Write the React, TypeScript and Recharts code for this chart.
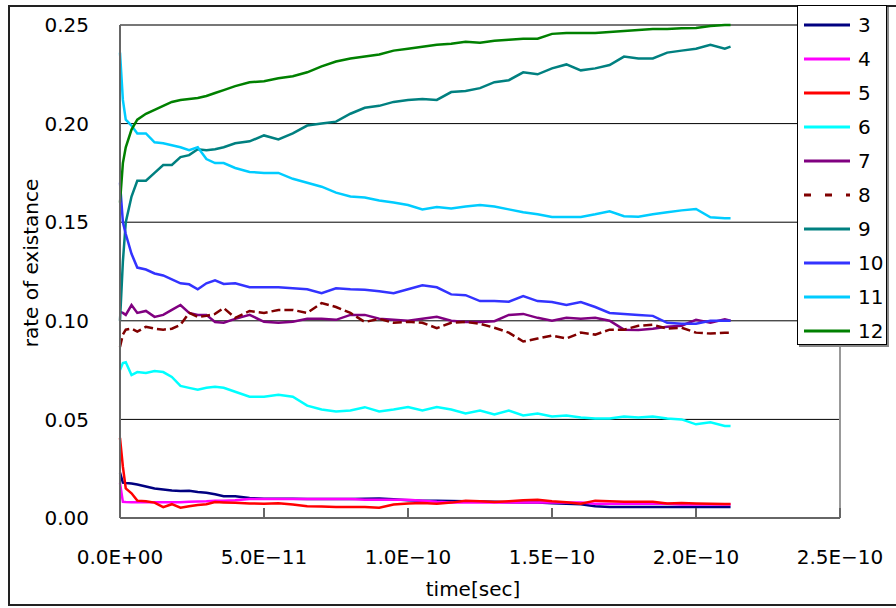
import { CartesianGrid, Label, Line, LineChart, ReferenceLine, XAxis, YAxis } from "recharts";

// time in picoseconds
const timePs = [
	0, 1, 2, 4, 6,
	9, 12, 15, 18, 21,
	24, 27, 30, 33, 36,
	40, 45, 50, 55, 60,
	65, 70, 75, 80, 85,
	90, 95, 100, 105, 110,
	115, 120, 125, 130, 135,
	140, 145, 150, 155, 160,
	165, 170, 175, 180, 185,
	190, 195, 200, 205, 210,
	212,
];

const s3 = [
	0.023, 0.018, 0.0178, 0.0175, 0.017,
	0.016, 0.015, 0.0145, 0.014, 0.0137,
	0.0138, 0.0132, 0.0128, 0.012, 0.011,
	0.011, 0.0101, 0.0098, 0.0097, 0.0097,
	0.0096, 0.0096, 0.0096, 0.0096, 0.0098,
	0.0099, 0.0095, 0.009, 0.0088, 0.0087,
	0.0086, 0.0085, 0.0084, 0.0083, 0.008,
	0.0078, 0.0078, 0.0075, 0.0072, 0.007,
	0.006, 0.0056, 0.0056, 0.0056, 0.0056,
	0.0056, 0.0056, 0.0056, 0.0056, 0.0056,
	0.0056,
];

const s4 = [
	0.0177, 0.0082, 0.0081, 0.008, 0.008,
	0.008, 0.008, 0.008, 0.008, 0.008,
	0.0082, 0.0084, 0.0085, 0.0087, 0.0088,
	0.009, 0.0096, 0.0096, 0.0096, 0.0096,
	0.0096, 0.0096, 0.0096, 0.0096, 0.0093,
	0.0093, 0.0093, 0.0093, 0.0088, 0.0082,
	0.0078, 0.0078, 0.0078, 0.0078, 0.0078,
	0.0078, 0.0078, 0.0078, 0.0078, 0.0078,
	0.0072, 0.0072, 0.0072, 0.0072, 0.0072,
	0.0072, 0.0068, 0.0068, 0.0068, 0.0068,
	0.0068,
];

const s5 = [
	0.0406, 0.026, 0.015, 0.0125, 0.0088,
	0.0085, 0.0078, 0.0055, 0.007, 0.0052,
	0.006, 0.0066, 0.007, 0.0081, 0.0079,
	0.0077, 0.0074, 0.0072, 0.0075, 0.0068,
	0.006, 0.0058, 0.0056, 0.0056, 0.0056,
	0.0052, 0.0068, 0.0074, 0.0076, 0.0072,
	0.0078, 0.0088, 0.0085, 0.0081, 0.0085,
	0.009, 0.0093, 0.0085, 0.008, 0.0072,
	0.0088, 0.0085, 0.0082, 0.0083, 0.0082,
	0.0074, 0.0076, 0.0074, 0.0072, 0.0071,
	0.0071,
];

const s6 = [
	0.075, 0.0786, 0.079, 0.0725, 0.074,
	0.0735, 0.0745, 0.074, 0.0715, 0.067,
	0.066, 0.065, 0.066, 0.0665, 0.066,
	0.064, 0.0615, 0.0615, 0.0625, 0.0615,
	0.057, 0.055, 0.054, 0.0545, 0.0562,
	0.054, 0.055, 0.0563, 0.0545, 0.0563,
	0.055, 0.053, 0.0545, 0.0525, 0.0545,
	0.052, 0.053, 0.0515, 0.052, 0.051,
	0.0505, 0.0505, 0.0515, 0.051, 0.0515,
	0.0505, 0.05, 0.0475, 0.0485, 0.0467,
	0.0466,
];

const s7 = [
	0.1045, 0.104, 0.103, 0.108, 0.104,
	0.105, 0.102, 0.103, 0.1055, 0.108,
	0.104, 0.103, 0.103, 0.0994, 0.099,
	0.101, 0.103, 0.0995, 0.099, 0.0995,
	0.101, 0.101, 0.1005, 0.103, 0.103,
	0.101, 0.1005, 0.1, 0.101, 0.102,
	0.1, 0.0994, 0.0994, 0.0998, 0.103,
	0.1035, 0.1015, 0.1, 0.1015, 0.101,
	0.1015, 0.1, 0.0955, 0.0953, 0.096,
	0.097, 0.0975, 0.1005, 0.099, 0.1008,
	0.1,
];

const s8 = [
	0.0867, 0.093, 0.0955, 0.096, 0.0945,
	0.097, 0.096, 0.0955, 0.096, 0.098,
	0.104, 0.102, 0.1025, 0.1035, 0.1065,
	0.1015, 0.105, 0.104, 0.1055, 0.1055,
	0.104, 0.109, 0.107, 0.104, 0.0994,
	0.101, 0.099, 0.0995, 0.099, 0.0963,
	0.099, 0.0994, 0.0985, 0.0965, 0.094,
	0.0895, 0.091, 0.0925, 0.091, 0.094,
	0.093, 0.0955, 0.0955, 0.0975, 0.098,
	0.096, 0.0965, 0.094, 0.0935, 0.094,
	0.094,
];

const s9 = [
	0.1, 0.13, 0.15, 0.163, 0.171,
	0.171, 0.175, 0.179, 0.179, 0.183,
	0.184, 0.187, 0.1865, 0.187, 0.188,
	0.19, 0.191, 0.194, 0.192, 0.195,
	0.199, 0.2, 0.201, 0.205, 0.208,
	0.209, 0.211, 0.212, 0.2125, 0.212,
	0.216, 0.2165, 0.218, 0.221, 0.222,
	0.226, 0.225, 0.228, 0.23, 0.227,
	0.228, 0.2297, 0.234, 0.233, 0.233,
	0.236, 0.237, 0.238, 0.24, 0.238,
	0.239,
];

const s10 = [
	0.17, 0.15, 0.144, 0.134, 0.127,
	0.126, 0.124, 0.123, 0.121, 0.119,
	0.1185, 0.116, 0.119, 0.1205, 0.1187,
	0.119, 0.117, 0.117, 0.117, 0.1165,
	0.116, 0.114, 0.1165, 0.116, 0.1158,
	0.115, 0.114, 0.116, 0.118, 0.117,
	0.1134, 0.113, 0.11, 0.11, 0.1097,
	0.1125, 0.11, 0.1095, 0.108, 0.1095,
	0.107, 0.104, 0.1035, 0.103, 0.1025,
	0.099, 0.0985, 0.0985, 0.1, 0.1,
	0.1,
];

const s11 = [
	0.236, 0.212, 0.202, 0.199, 0.195,
	0.195, 0.1905, 0.19, 0.189, 0.188,
	0.1865, 0.188, 0.182, 0.18, 0.18,
	0.1775, 0.1755, 0.175, 0.175, 0.172,
	0.17, 0.168, 0.165, 0.163, 0.1625,
	0.161, 0.16, 0.1587, 0.1565, 0.1577,
	0.157, 0.158, 0.1587, 0.158, 0.1565,
	0.155, 0.154, 0.1527, 0.1527, 0.1527,
	0.154, 0.1555, 0.153, 0.1528, 0.154,
	0.155, 0.156, 0.1567, 0.1525, 0.152,
	0.152,
];

const s12 = [
	0.16, 0.18, 0.188, 0.197, 0.202,
	0.205, 0.207, 0.209, 0.211, 0.212,
	0.2125, 0.213, 0.214, 0.2155, 0.217,
	0.219, 0.221, 0.2215, 0.223, 0.224,
	0.226, 0.229, 0.2315, 0.233, 0.234,
	0.235, 0.237, 0.238, 0.239, 0.24,
	0.2405, 0.2415, 0.241, 0.242, 0.2425,
	0.243, 0.243, 0.2455, 0.246, 0.246,
	0.246, 0.2465, 0.247, 0.2475, 0.248,
	0.248, 0.2483, 0.2485, 0.2495, 0.25,
	0.25,
];

const xTicks = [0, 5e-11, 1e-10, 1.5e-10, 2e-10, 2.5e-10];
const yTicks = [0, 0.05, 0.1, 0.15, 0.2, 0.25];

const seriesValues: Record<string, number[]> = { s3, s4, s5, s6, s7, s8, s9, s10, s11, s12 };

const series = [
	{ key: "s3", name: "3", color: "#000080" },
	{ key: "s4", name: "4", color: "#ff00ff" },
	{ key: "s5", name: "5", color: "#ff0000" },
	{ key: "s6", name: "6", color: "#00ffff" },
	{ key: "s7", name: "7", color: "#800080" },
	{ key: "s8", name: "8", color: "#800000", dash: "9 4", legendDash: "7 14" },
	{ key: "s9", name: "9", color: "#008080" },
	{ key: "s10", name: "10", color: "#3333ff" },
	{ key: "s11", name: "11", color: "#00ccff" },
	{ key: "s12", name: "12", color: "#008000" },
];

const data = timePs.map((t, i) => {
	const row: Record<string, number> = { time: t * 1e-12 };
	for (const s of series) row[s.key] = seriesValues[s.key][i];
	return row;
});

const FONT = "'DejaVu Sans', sans-serif";

function sci(v: number) {
	if (v === 0) return "0.0E+00";
	const e = Math.floor(Math.log10(v) + 1e-9);
	const m = v / Math.pow(10, e);
	const sign = e < 0 ? "\u2212" : "+";
	return `${m.toFixed(1)}E${sign}${String(Math.abs(e)).padStart(2, "0")}`;
}

function LegendBox() {
	return (
		<div
			style={{
				position: "absolute",
				left: 797,
				top: 5,
				width: 88,
				height: 338,
				border: "1px solid #000",
				boxShadow: "2px 2px 0 #888",
				background: "#fff",
				fontFamily: FONT,
				fontSize: 20,
				color: "#000",
			}}
		>
			{series.map((s, i) => (
				<div
					key={s.key}
					style={{ position: "absolute", left: 0, top: 2 + i * 34, height: 34, display: "flex", alignItems: "center" }}
				>
					<svg width={60} height={10} style={{ display: "block" }}>
						<line
							x1={6}
							x2={52}
							y1={5}
							y2={5}
							stroke={s.color}
							strokeWidth={3}
							strokeDasharray={s.legendDash}
						/>
					</svg>
					<span style={{ lineHeight: "34px" }}>{s.name}</span>
				</div>
			))}
		</div>
	);
}

export default function App() {
	return (
		<div style={{ position: "absolute", left: 0, top: 0, width: 896, height: 608, overflow: "hidden", background: "#fff" }}>
			<div
				style={{
					position: "absolute",
					left: 8,
					top: 5,
					width: 900,
					height: 597,
					border: "2px solid #222",
				}}
			/>
			<div style={{ position: "absolute", left: 0, top: 0 }}>
				<LineChart width={896} height={608} data={data} margin={{ top: 25, right: 56, left: 60, bottom: 30 }}>
					<CartesianGrid vertical={false} stroke="#000" strokeWidth={1} />
					<XAxis
						dataKey="time"
						type="number"
						domain={[0, 2.5e-10]}
						ticks={xTicks}
						tickFormatter={sci}
						height={60}
						interval={0}
						stroke="#666"
						strokeWidth={2}
						tickSize={-10}
						tickMargin={42}
						tick={{ fill: "#000", fontSize: 20, fontFamily: FONT }}
					>
						<Label
							content={() => (
								<text x={473} y={589} textAnchor="middle" dominantBaseline="central" fontSize={20} fontFamily={FONT} fill="#000">
									time[sec]
								</text>
							)}
						/>
					</XAxis>
					<YAxis
						type="number"
						domain={[0, 0.25]}
						ticks={yTicks}
						tickFormatter={(v: number) => v.toFixed(2)}
						width={60}
						interval={0}
						stroke="#666"
						strokeWidth={2}
						tickLine={false}
						tickSize={0}
						tickMargin={31}
						tick={{ fill: "#000", fontSize: 20, fontFamily: FONT }}
					>
						<Label
							content={() => (
								<text
									x={31}
									y={263}
									transform="rotate(-90 31 263)"
									textAnchor="middle"
									dominantBaseline="central"
									fontSize={20}
									fontFamily={FONT}
									fill="#000"
								>
									rate of existance
								</text>
							)}
						/>
					</YAxis>
					<ReferenceLine x={2.5e-10} stroke="#999" strokeWidth={2} />
					<ReferenceLine y={0.25} stroke="#777" strokeWidth={2} />
					{series.map((s) => (
						<Line
							key={s.key}
							type="linear"
							dataKey={s.key}
							name={s.name}
							stroke={s.color}
							strokeWidth={2.5}
							strokeDasharray={s.dash}
							dot={false}
							isAnimationActive={false}
						/>
					))}
				</LineChart>
			</div>
			<LegendBox />
		</div>
	);
}
